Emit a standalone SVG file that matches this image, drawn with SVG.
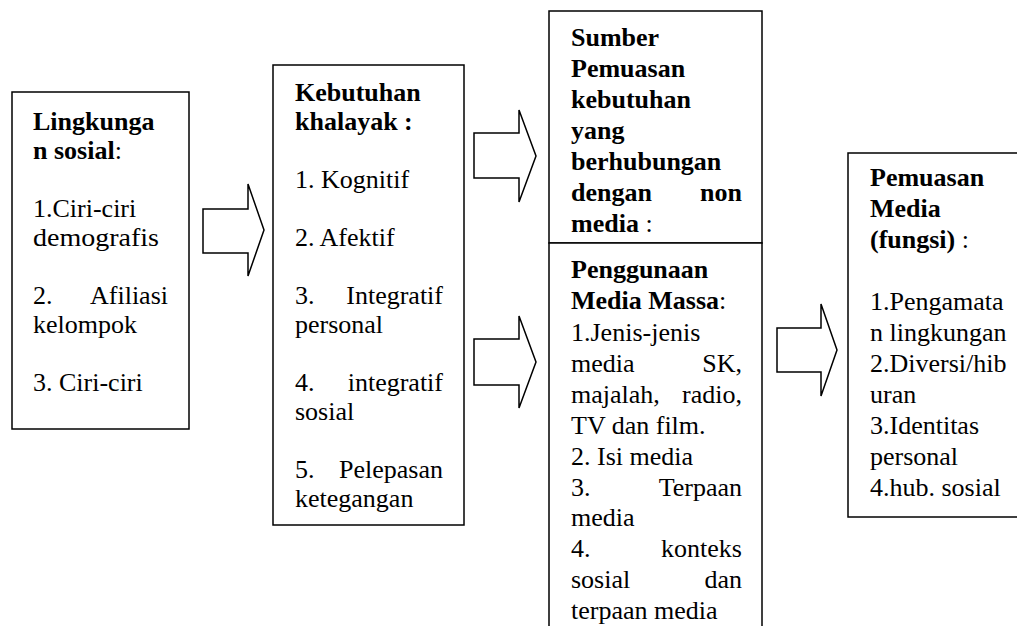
<svg xmlns="http://www.w3.org/2000/svg" width="1017" height="626" viewBox="0 0 1017 626">
<style>
.box{fill:#fff;stroke:#000;stroke-width:1.5}
.arrow{fill:#fff;stroke:#000;stroke-width:1.5;stroke-linejoin:miter}
text{font-family:"Liberation Serif","Times New Roman",serif;font-size:26px;fill:#000}
.b{font-weight:bold}
.n{font-weight:normal}
.e{text-anchor:end}
</style>
<rect width="1017" height="626" fill="#fff"/>
<g id="connectors">
<polygon class="arrow" points="203,209 248,209 248,184 264,230 248,276 248,253 203,253"/>
<polygon class="arrow" points="474,133 519,133 519,110 536,156 519,202 519,178 474,178"/>
<polygon class="arrow" points="474,339 519,339 519,316 536,362 519,408 519,385 474,385"/>
<polygon class="arrow" points="777,328 821,328 821,304 837,350 821,396 821,372 777,372"/>
</g>
<g id="lingkungan-sosial">
<rect class="box" x="12" y="92" width="177" height="337"/>
<text class="b" x="33" y="130">Lingkunga</text>
<text class="b" x="33" y="159">n sosial<tspan class="n">:</tspan></text>
<text x="33" y="217">1.Ciri-ciri</text>
<text x="33" y="246" textLength="126" lengthAdjust="spacingAndGlyphs">demografis</text>
<text x="33" y="304">2.</text><text class="e" x="168" y="304">Afiliasi</text>
<text x="33" y="333">kelompok</text>
<text x="33" y="391">3. Ciri-ciri</text>
</g>
<g id="kebutuhan-khalayak">
<rect class="box" x="273" y="65" width="191" height="460"/>
<text class="b" x="295" y="101">Kebutuhan</text>
<text class="b" x="295" y="130">khalayak :</text>
<text x="295" y="188">1. Kognitif</text>
<text x="295" y="246">2. Afektif</text>
<text x="295" y="304">3.</text><text class="e" x="443" y="304">Integratif</text>
<text x="295" y="333">personal</text>
<text x="295" y="391">4.</text><text class="e" x="443" y="391">integratif</text>
<text x="295" y="420">sosial</text>
<text x="295" y="478">5.</text><text class="e" x="443" y="478">Pelepasan</text>
<text x="295" y="507">ketegangan</text>
</g>
<g id="sumber-non-media">
<rect class="box" x="549" y="11" width="213" height="232"/>
<text class="b" x="571" y="46">Sumber</text>
<text class="b" x="571" y="77">Pemuasan</text>
<text class="b" x="571" y="108">kebutuhan</text>
<text class="b" x="571" y="139">yang</text>
<text class="b" x="571" y="170">berhubungan</text>
<text class="b" x="571" y="201">dengan</text><text class="b e" x="742" y="201">non</text>
<text class="b" x="571" y="232">media<tspan class="n"> :</tspan></text>
</g>
<g id="penggunaan-media">
<rect class="box" x="549" y="243" width="213" height="400"/>
<text class="b" x="571" y="278">Penggunaan</text>
<text class="b" x="571" y="309">Media Massa<tspan class="n">:</tspan></text>
<text x="571" y="341">1.Jenis-jenis</text>
<text x="571" y="372">media</text><text class="e" x="742" y="372">SK,</text>
<text x="571" y="403">majalah,</text><text class="e" x="742" y="403">radio,</text>
<text x="571" y="434">TV dan film.</text>
<text x="571" y="465">2. Isi media</text>
<text x="571" y="496">3.</text><text class="e" x="742" y="496">Terpaan</text>
<text x="571" y="526">media</text>
<text x="571" y="557">4.</text><text class="e" x="742" y="557">konteks</text>
<text x="571" y="588">sosial</text><text class="e" x="742" y="588">dan</text>
<text x="571" y="619">terpaan media</text>
</g>
<g id="pemuasan-media">
<rect class="box" x="848" y="153" width="190" height="364"/>
<text class="b" x="870" y="186">Pemuasan</text>
<text class="b" x="870" y="217">Media</text>
<text class="b" x="870" y="248">(fungsi)<tspan class="n"> :</tspan></text>
<text x="870" y="310">1.Pengamata</text>
<text x="870" y="341">n lingkungan</text>
<text x="870" y="372">2.Diversi/hib</text>
<text x="870" y="403">uran</text>
<text x="870" y="434">3.Identitas</text>
<text x="870" y="465">personal</text>
<text x="870" y="496">4.hub. sosial</text>
</g>
</svg>
